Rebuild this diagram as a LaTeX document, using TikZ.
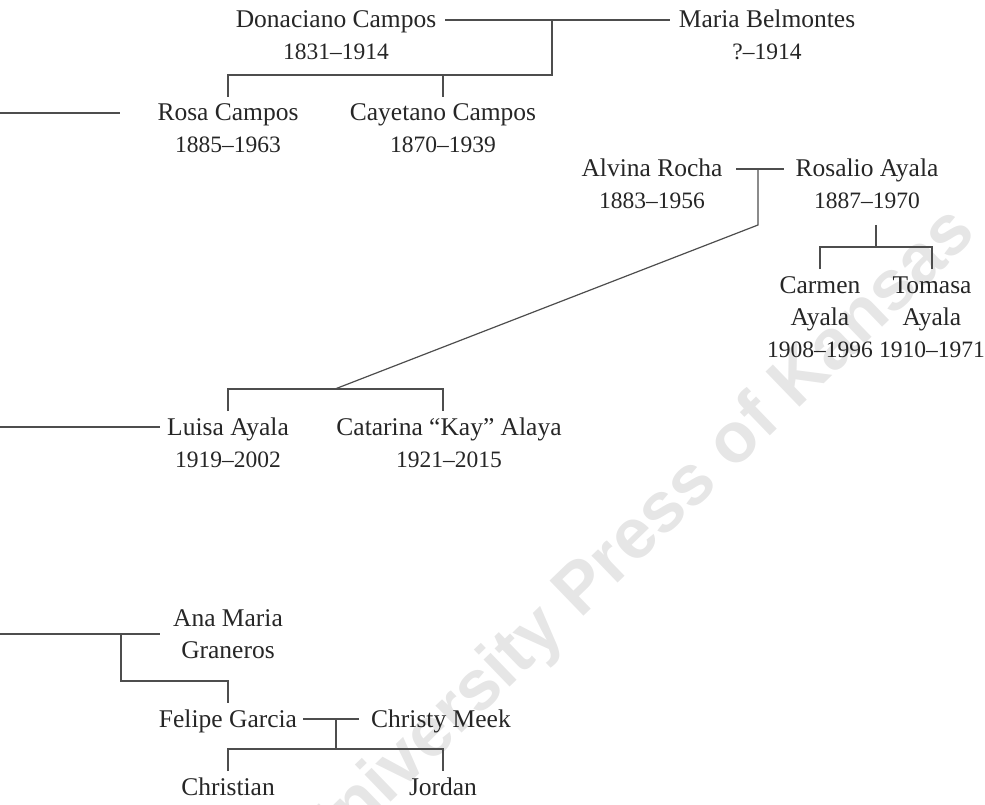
\documentclass[tikz,border=0pt]{standalone}
\usepackage{fontspec}
\setmainfont{Liberation Serif}
\newfontfamily\wmfont{Liberation Sans}
\newcommand\ystrut{\rule[-8pt]{0pt}{32pt}}
\newcommand\datefont{\fontsize{23.5}{32}\selectfont}
\definecolor{ink}{HTML}{262626}
\definecolor{wire}{HTML}{4D4D4D}
\definecolor{wmgray}{HTML}{E6E6E6}
\begin{document}
\begin{tikzpicture}[x=1pt,y=-1pt,
  pname/.style={inner sep=0pt, outer sep=0pt, text=ink, font=\fontsize{25.5}{32}\selectfont, text height=24pt, text depth=8pt},
  pmulti/.style={inner sep=0pt, outer sep=0pt, text=ink, font=\fontsize{25.5}{32}\selectfont, align=center},
  every label/.style={inner sep=0pt, outer sep=0pt, text=ink, font=\datefont, text height=24pt, text depth=8pt},
  label distance=0pt,
  link/.style={draw=wire, line width=1.2pt},
  wmark/.style={text=wmgray, font=\wmfont\bfseries\fontsize{71}{80}\selectfont, rotate=44, inner sep=0pt}
]
\useasboundingbox (0,0) rectangle (985,805);
\clip (0,0) rectangle (985,805);

% watermark
\node[wmark] (wmk) at (636,540) {University Press of Kansas};

% people
\node[pname, label={below:1831–1914}] (dc) at (336,20) {Donaciano Campos};
\node[pname, label={below:?–1914}] (mb) at (767,20) {Maria Belmontes};
\node[pname, label={below:1885–1963}] (rc) at (228,113) {Rosa Campos};
\node[pname, label={below:1870–1939}] (cc) at (443,113) {Cayetano Campos};
\node[pname, label={below:1883–1956}] (ar) at (652,169) {Alvina Rocha};
\node[pname, label={[name=rad]below:1887–1970}] (ra) at (867,169) {Rosalio Ayala};
\node[pmulti] (ca) at (820,317) {\ystrut Carmen\\\ystrut Ayala\\\ystrut{\datefont 1908–1996}};
\node[pmulti] (ta) at (932,317) {\ystrut Tomasa\\\ystrut Ayala\\\ystrut{\datefont 1910–1971}};
\node[pname, label={below:1919–2002}] (la) at (228,427) {Luisa Ayala};
\node[pname, label={below:1921–2015}] (ka) at (449,427) {Catarina “Kay” Alaya};
\node[pmulti] (am) at (228,634) {\ystrut Ana Maria\\\ystrut Graneros};
\node[pname] (fg) at (228,719) {Felipe Garcia};
\node[pname] (cm) at (441,719) {Christy Meek};
\node[pname] (ch) at (228,787) {Christian};
\node[pname] (jo) at (443,787) {Jordan};

% junction points and free ends
\coordinate (u1) at (552,75);
\coordinate (u2) at (758,225);
\coordinate (u3) at (335,389);
\coordinate (u4) at (443,389);
\coordinate (u5) at (876,247);
\coordinate (u6) at (121,681);
\coordinate (u7) at (336,749);
\coordinate (L1) at (0,113);
\coordinate (L2) at (0,427);
\coordinate (L3) at (0,634);

% connectors
\draw[link, shorten <=9pt, shorten >=9pt] (dc.east) -- (mb.west);
\draw[link] (u1 |- dc.east) -- (u1) -| (rc.north);
\draw[link] (cc.north |- u1) -- (cc.north);
\draw[link, shorten >=38pt] (L1) -- (rc.west);

\draw[link, shorten <=14pt, shorten >=12pt] (ar.east) -- (ra.west);
\draw[link] (u2 |- ar.east) -- (u2) -- (u3);
\draw[link] (la.north) |- (u4) -- (u4 |- ka.north);
\draw[link, shorten <=8pt] (u5 |- rad.south) -- (u5);
\draw[link] (ca.north) |- (u5) -| (ta.north);
\draw[link, shorten >=7pt] (L2) -- (la.west);

\draw[link, shorten >=13pt] (L3) -- (am.west);
\draw[link] (u6 |- am.west) -- (u6) -| (fg.north);
\draw[link, shorten <=6pt, shorten >=12pt] (fg.east) -- (cm.west);
\draw[link] (u7 |- fg.east) -- (u7);
\draw[link] (ch.north) |- (u7) -| (jo.north);
\end{tikzpicture}
\end{document}
